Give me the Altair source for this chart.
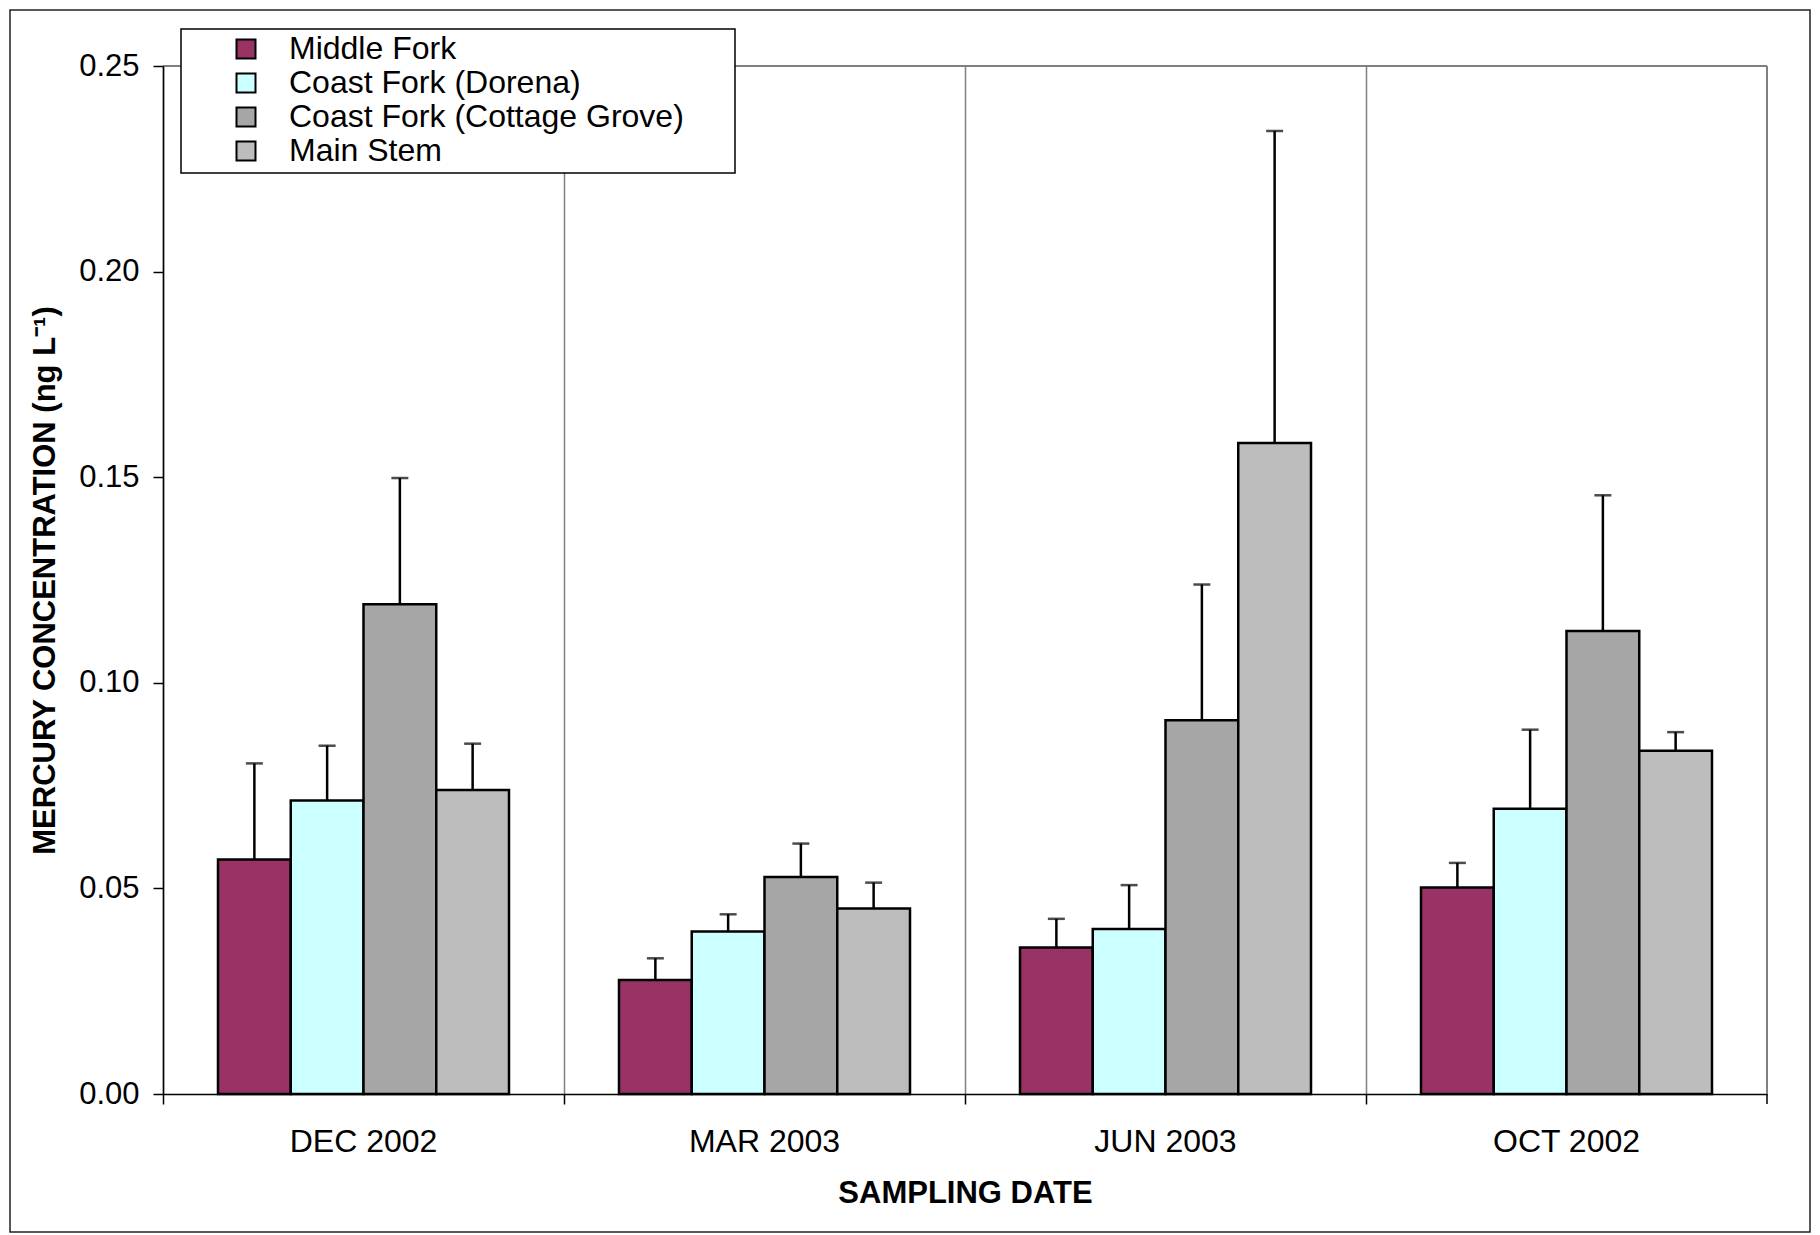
import altair as alt
import pandas as pd

# ---- data ----
dates = ["DEC 2002", "MAR 2003", "JUN 2003", "OCT 2002"]
sites = ["Middle Fork", "Coast Fork (Dorena)", "Coast Fork (Cottage Grove)", "Main Stem"]

middle_fork = [0.0570, 0.0277, 0.0356, 0.0502]
middle_fork_sd = [0.0234, 0.0053, 0.0070, 0.0060]
dorena = [0.0714, 0.0395, 0.0401, 0.0694]
dorena_sd = [0.0133, 0.0042, 0.0107, 0.0192]
cottage_grove = [0.1191, 0.0528, 0.0909, 0.1126]
cottage_grove_sd = [0.0307, 0.0081, 0.0330, 0.0330]
main_stem = [0.0739, 0.0451, 0.1583, 0.0835]
main_stem_sd = [0.0113, 0.0063, 0.0759, 0.0045]

colors = ["#993366", "#CCFFFF", "#A6A6A6", "#BDBDBD"]
y_ticks = [0.0, 0.05, 0.10, 0.15, 0.20, 0.25]

rows = []
for site, vals, sds in zip(
    sites,
    [middle_fork, dorena, cottage_grove, main_stem],
    [middle_fork_sd, dorena_sd, cottage_grove_sd, main_stem_sd],
):
    for d, v, s in zip(dates, vals, sds):
        rows.append({"date": d, "site": site, "value": v, "upper": v + s})
df = pd.DataFrame(rows)
one = pd.DataFrame({"k": [0]})

W, H = 1604, 1028
FONT = "Liberation Sans"

x_enc = alt.X(
    "date:N",
    sort=dates,
    scale=alt.Scale(paddingInner=0, paddingOuter=0),
    title="SAMPLING DATE",
    axis=alt.Axis(
        bandPosition=0,
        labelAngle=0,
        grid=True,
        gridColor="#808080",
        gridWidth=1.5,
        domainColor="black",
        domainWidth=1.5,
        tickColor="black",
        tickWidth=1.5,
        tickSize=10,
        labelFont=FONT,
        labelFontSize=32,
        labelColor="black",
        labelPadding=22,
        titleFont=FONT,
        titleFontSize=31,
        titleFontWeight="bold",
        titleColor="black",
        titlePadding=21,
    ),
)
xoff = alt.XOffset(
    "site:N",
    sort=sites,
    scale=alt.Scale(domain=sites, paddingInner=0, paddingOuter=0.756),
)
y_enc = alt.Y(
    "value:Q",
    scale=alt.Scale(domain=[0, 0.25], nice=False),
    title="MERCURY CONCENTRATION (ng L⁻¹)",
    axis=alt.Axis(
        values=y_ticks,
        format=".2f",
        grid=False,
        zindex=1,
        domainColor="black",
        domainWidth=1.5,
        tickColor="black",
        tickWidth=1.5,
        tickSize=10,
        labelFont=FONT,
        labelFontSize=31,
        labelColor="black",
        labelPadding=14,
        titleFont=FONT,
        titleFontSize=31,
        titleFontWeight="bold",
        titleColor="black",
        titlePadding=17,
    ),
)

frame = alt.Chart(one).mark_rect(fillOpacity=0, stroke="#222222", strokeWidth=1.5).encode(
    x=alt.value(-153), x2=alt.value(1647), y=alt.value(-56), y2=alt.value(1166)
)
top_border = alt.Chart(one).mark_rule(color="#808080", strokeWidth=2).encode(
    x=alt.value(0), x2=alt.value(W), y=alt.value(0)
)
right_border = alt.Chart(one).mark_rule(color="#808080", strokeWidth=2).encode(
    x=alt.value(W), y=alt.value(0), y2=alt.value(H)
)
end_tick = alt.Chart(one).mark_rule(color="black", strokeWidth=1.5).encode(
    x=alt.value(W), y=alt.value(H), y2=alt.value(H + 10)
)
legend_box = alt.Chart(one).mark_rect(fill="white", stroke="black", strokeWidth=1.5).encode(
    x=alt.value(18), x2=alt.value(572), y=alt.value(-37), y2=alt.value(107)
)

bars = alt.Chart(df).mark_bar(stroke="black", strokeWidth=2.5).encode(
    x=x_enc,
    xOffset=xoff,
    y=y_enc,
    fill=alt.Fill(
        "site:N",
        sort=sites,
        scale=alt.Scale(domain=sites, range=colors),
        title=None,
        legend=alt.Legend(
            orient="none",
            legendX=67,
            legendY=-33,
            padding=0,
            symbolType="square",
            symbolSize=361,
            symbolStrokeColor="black",
            symbolStrokeWidth=2,
            symbolOpacity=1,
            labelFont=FONT,
            labelFontSize=32,
            labelColor="black",
            labelOffset=27,
            labelLimit=700,
            rowPadding=2,
        ),
    ),
)

err = alt.Chart(df).mark_rule(color="black", strokeWidth=2.5).encode(
    x=alt.X("date:N", sort=dates),
    xOffset=alt.XOffset("site:N", sort=sites),
    y="value:Q",
    y2="upper:Q",
)
caps = alt.Chart(df).mark_tick(color="black", thickness=2.5, size=17, orient="horizontal").encode(
    x=alt.X("date:N", sort=dates),
    xOffset=alt.XOffset("site:N", sort=sites),
    y="upper:Q",
)

chart = (
    alt.layer(frame, top_border, right_border, end_tick, legend_box, bars, err, caps)
    .properties(
        width=W,
        height=H,
        autosize=alt.AutoSizeParams(type="none"),
        padding={"left": 155, "top": 58, "right": 45, "bottom": 141},
        background="white",
    )
    .configure_view(strokeWidth=0)
)

chart.save("out.html", embed_options={"renderer": "svg", "actions": False})
